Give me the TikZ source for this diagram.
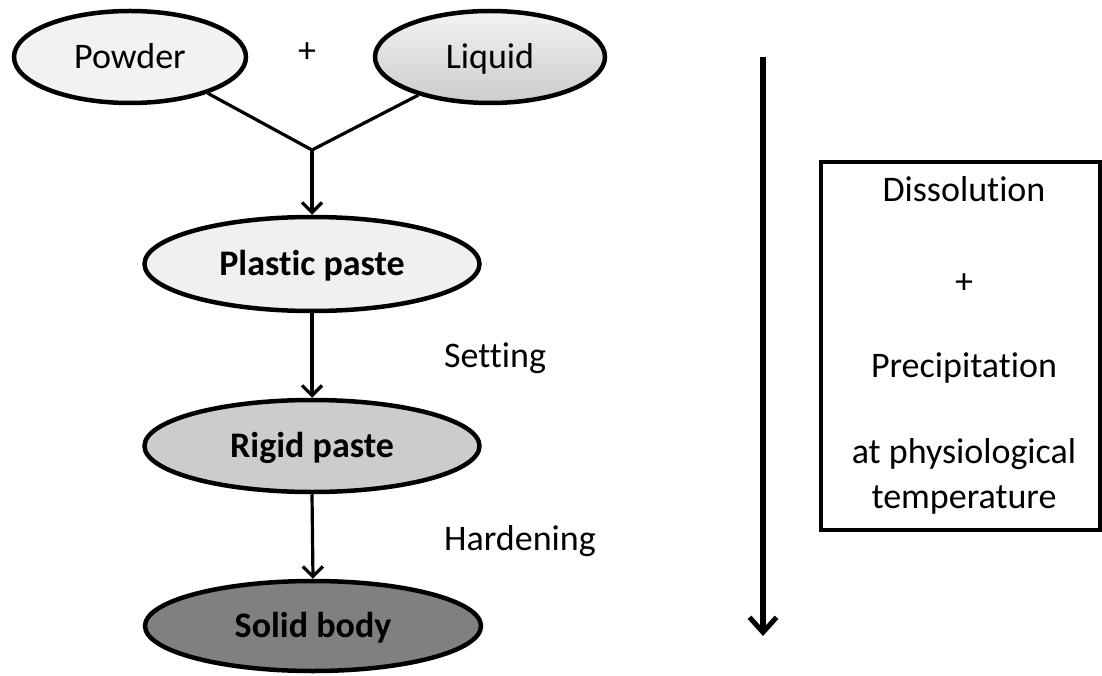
\documentclass[tikz,border=0pt]{standalone}
\usepackage{fontspec}
\setmainfont{Carlito}[Ligatures=NoCommon]
\usetikzlibrary{shapes.geometric,arrows.meta}
\begin{document}
\begin{tikzpicture}[x=1pt,y=-1pt,
  oval/.style={ellipse,draw=black,line width=4.5pt,minimum width=#1,inner sep=0pt,
    font=\fontsize{36}{44}\selectfont,text height=23pt,text depth=0pt},
  lbl/.style={font=\fontsize{36}{44}\selectfont,inner sep=0pt,anchor=base},
  conn/.style={line width=3.2pt},
  arr/.style={line width=3.2pt,-{Straight Barb[length=10pt,width=20pt,line width=3.2pt]}},
  bigarr/.style={line width=5.5pt,-{Straight Barb[length=15pt,width=27pt,line width=5pt]}}]
\useasboundingbox (0,0) rectangle (1102,676);
\node[oval=232pt,minimum height=92pt,fill=black!5] (powder) at (130,57) {Powder};
\node[oval=230pt,minimum height=92pt,top color=black!5,bottom color=black!20] (liquid) at (490,57) {Liquid};
\node[lbl] (plus) at (307,63) {+};
\coordinate (join) at (312,150);
\node[oval=335pt,minimum height=94pt,fill=black!6] (plastic) at (312,264) {\textbf{Plastic paste}};
\node[oval=335pt,minimum height=92pt,fill=black!20] (rigid) at (312,446) {\textbf{Rigid paste}};
\node[oval=336pt,minimum height=90pt,fill=black!50] (solid) at (313,626) {\textbf{Solid body}};
\node[lbl] (setting) at (495,367) {Setting};
\node[lbl] (hardening) at (520,550) {Hardening};
\draw[conn] (powder.-25) -- (join);
\draw[conn] (liquid.-152) -- (join);
\draw[arr] (join) -- (plastic.north);
\draw[arr] (plastic.south) -- (rigid.north);
\draw[arr] (rigid.south) -- (solid.north);
\coordinate (ts) at (763,57);
\coordinate (te) at (763,636);
\draw[bigarr] (ts) -- (te);
\node[draw,line width=4.5pt,minimum width=279pt,minimum height=368pt,inner sep=0pt] (box) at (960.5,346) {};
\node[lbl] (d1) at (964,202) {Dissolution};
\node[lbl] (d2) at (964,293) {+};
\node[lbl] (d3) at (964,377) {Precipitation};
\node[lbl] (d4) at (964,463) {at physiological};
\node[lbl] (d5) at (964,508) {temperature};
\end{tikzpicture}
\end{document}
